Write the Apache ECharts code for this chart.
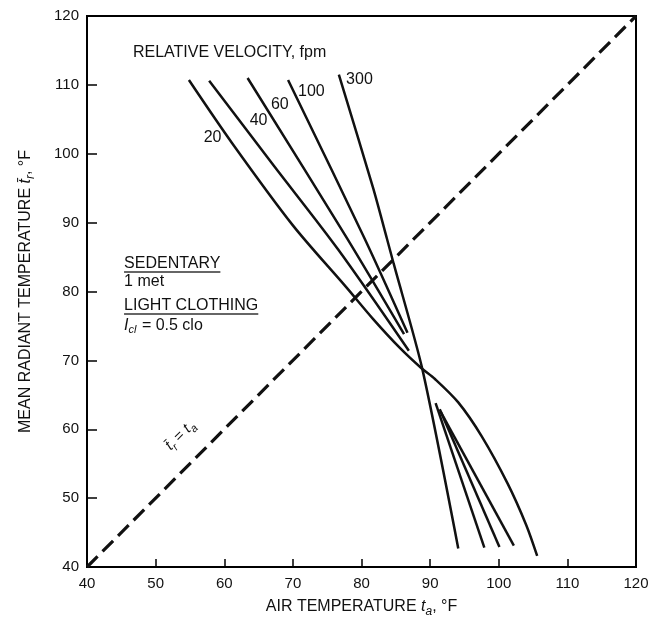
<!DOCTYPE html>
<html>
<head>
<meta charset="utf-8">
<script src="https://cdn.jsdelivr.net/npm/echarts@6/dist/echarts.min.js"></script>
<style>
  html, body { margin: 0; padding: 0; background: #fff; }
  #chart { width: 662px; height: 617px; }
</style>
</head>
<body>
<div id="chart"></div>
<script>
// Comfort lines for sedentary activity (1 met), light clothing (0.5 clo)
// x = air temperature (°F), y = mean radiant temperature (°F)
const xTicks = [40, 50, 60, 70, 80, 90, 100, 110, 120];
const yTicks = [40, 50, 60, 70, 80, 90, 100, 110, 120];

const velocityLabels = ['20', '40', '60', '100', '300'];

const v20 = [[54.85, 110.7], [61.1, 101.6], [70, 89.6], [77.8, 80.6], [81.7, 76.0],
             [85.7, 71.7], [88.7, 68.9], [90.7, 67.3], [94.1, 63.9], [97.5, 59.0], [101.3, 52.1],
             [104.0, 46.1], [105.6, 41.6]];
const v40Upper = [[57.8, 110.6], [67.2, 98.3], [76.6, 86.1], [86.9, 71.4]];
const v40Lower = [[91.5, 62.6], [102.2, 43.1]];
const v60Upper = [[63.4, 111.0], [77.9, 87.7], [86.2, 73.8]];
const v60Lower = [[91.4, 62.9], [100.1, 42.9]];
const v100Upper = [[69.3, 110.7], [80.45, 87.7], [86.7, 74.0]];
const v100Lower = [[90.8, 63.8], [97.9, 42.8]];
const v300 = [[76.7, 111.5], [81.7, 95.0], [83.7, 87.7], [84.7, 84.0], [88.85, 68.8], [94.1, 42.7]];
const equalTemps = [[40, 40], [120, 120]];

// where the velocity numbers sit (data coordinates)
const velocityLabelAt = [[58.3, 102.4], [65.0, 104.8], [68.1, 107.1], [72.7, 109.0], [79.7, 110.7]];

const FONT = '"Liberation Sans", Arial, Helvetica, sans-serif';
const INK = '#111';

const chart = echarts.init(document.getElementById('chart'), null, { renderer: 'canvas' });

function curve(name, data, smooth) {
  return {
    name: name, type: 'line', data: data, symbol: 'none', smooth: smooth || false,
    lineStyle: { color: INK, width: 2.5 }, silent: true, z: 3
  };
}

function nameRich(size) {
  return {
    n: { fontSize: size, fontFamily: FONT, color: INK },
    it: { fontSize: size, fontFamily: FONT, fontStyle: 'italic', color: INK },
    sub: { fontSize: size - 4, fontFamily: FONT, fontStyle: 'italic', color: INK, padding: [11, 0, 0, 0] }
  };
}

const option = {
  animation: false,
  backgroundColor: '#fff',
  grid: {
    left: 87, right: 26, top: 16, bottom: 50, outerBoundsMode: 'none',
    show: true, borderColor: '#000', borderWidth: 2
  },
  xAxis: {
    type: 'value', min: xTicks[0], max: xTicks[xTicks.length - 1], interval: 10,
    axisLine: { show: true, lineStyle: { color: '#000', width: 2 } },
    axisTick: { show: true, inside: true, length: 8, lineStyle: { color: '#000', width: 1.5 } },
    splitLine: { show: false },
    axisLabel: { color: INK, fontSize: 15, fontFamily: FONT, margin: 9 },
    name: '{n|AIR TEMPERATURE }{it|t}{sub|a}{n|, °F}',
    nameLocation: 'middle', nameGap: 28,
    nameTextStyle: { color: INK, fontSize: 16, fontFamily: FONT, rich: nameRich(16) }
  },
  yAxis: {
    type: 'value', min: yTicks[0], max: yTicks[yTicks.length - 1], interval: 10,
    axisLine: { show: true, lineStyle: { color: '#000', width: 2 } },
    axisTick: { show: true, inside: true, length: 10, lineStyle: { color: '#000', width: 1.5 } },
    splitLine: { show: false },
    axisLabel: { color: INK, fontSize: 15, fontFamily: FONT, margin: 8 },
    name: '{n|MEAN RADIANT TEMPERATURE }{it|t\u0304}{sub|r}{n|, °F}',
    nameLocation: 'middle', nameGap: 50, nameRotate: 90,
    nameTextStyle: { color: INK, fontSize: 16, fontFamily: FONT, rich: nameRich(16) }
  },
  series: [
    {
      name: 'tr = ta', type: 'line', data: equalTemps, symbol: 'none', silent: true, z: 2,
      lineStyle: { color: INK, width: 3.2, type: [15, 7] }
    },
    curve('20 fpm', v20, 0.3),
    curve('40 fpm upper', v40Upper, 0.3),
    curve('40 fpm lower', v40Lower),
    curve('60 fpm upper', v60Upper, 0.3),
    curve('60 fpm lower', v60Lower),
    curve('100 fpm upper', v100Upper, 0.3),
    curve('100 fpm lower', v100Lower),
    curve('300 fpm', v300, 0.25)
  ]
};
chart.setOption(option);

// ---- annotations positioned from data coordinates ----
const measureCtx = document.createElement('canvas').getContext('2d');
function textWidth(str, size) {
  measureCtx.font = size + 'px ' + FONT;
  return measureCtx.measureText(str).width;
}
const px = (pt) => chart.convertToPixel({ gridIndex: 0 }, pt);

const graphics = [];
const TEXT_SIZE = 16;

function addText(pt, text, opts) {
  const p = px(pt);
  graphics.push(Object.assign({
    type: 'text', x: p[0], y: p[1], silent: true, z: 10,
    style: Object.assign({
      text: text, fill: INK, fontSize: TEXT_SIZE, fontFamily: FONT,
      align: 'left', verticalAlign: 'middle'
    }, (opts && opts.style) || {})
  }, (opts && opts.el) || {}));
  return p;
}

// title of the curve family
addText([46.7, 114.7], 'RELATIVE VELOCITY, fpm');

// velocity numbers
velocityLabels.forEach((lab, i) => {
  addText(velocityLabelAt[i], lab, { style: { align: 'center' } });
});

// activity / clothing notes with underlined headings
function underlined(pt, str) {
  const p = addText(pt, str);
  const w = textWidth(str, TEXT_SIZE);
  graphics.push({
    type: 'line', silent: true, z: 10,
    shape: { x1: p[0], y1: p[1] + 8, x2: p[0] + w, y2: p[1] + 8 },
    style: { stroke: '#333', lineWidth: 1.4 }
  });
}
underlined([45.4, 84.0], 'SEDENTARY');
addText([45.4, 81.4], '1 met');
underlined([45.4, 77.9], 'LIGHT CLOTHING');
addText([45.4, 75.1], '{it|I}{sub|cl}{n| = 0.5 clo}', {
  style: {
    rich: {
      n: { fontSize: TEXT_SIZE, fontFamily: FONT, fill: INK },
      it: { fontSize: TEXT_SIZE, fontFamily: FONT, fontStyle: 'italic', fill: INK },
      sub: { fontSize: 11, fontFamily: FONT, fontStyle: 'italic', fill: INK, padding: [10, 1, 0, 0] }
    }
  }
});

// label along the equal-temperature diagonal
addText([53.6, 59.1], '{it|t\u0304}{sub|r}{n| = }{it|t}{sub|a}', {
  style: {
    align: 'center',
    rich: {
      n: { fontSize: 15, fontFamily: FONT, fill: INK },
      it: { fontSize: 15, fontFamily: FONT, fontStyle: 'italic', fill: INK },
      sub: { fontSize: 11, fontFamily: FONT, fontStyle: 'italic', fill: INK, padding: [10, 0, 0, 0] }
    }
  },
  el: { rotation: Math.PI / 4 }
});

chart.setOption({ graphic: { elements: graphics } });
</script>
</body>
</html>
